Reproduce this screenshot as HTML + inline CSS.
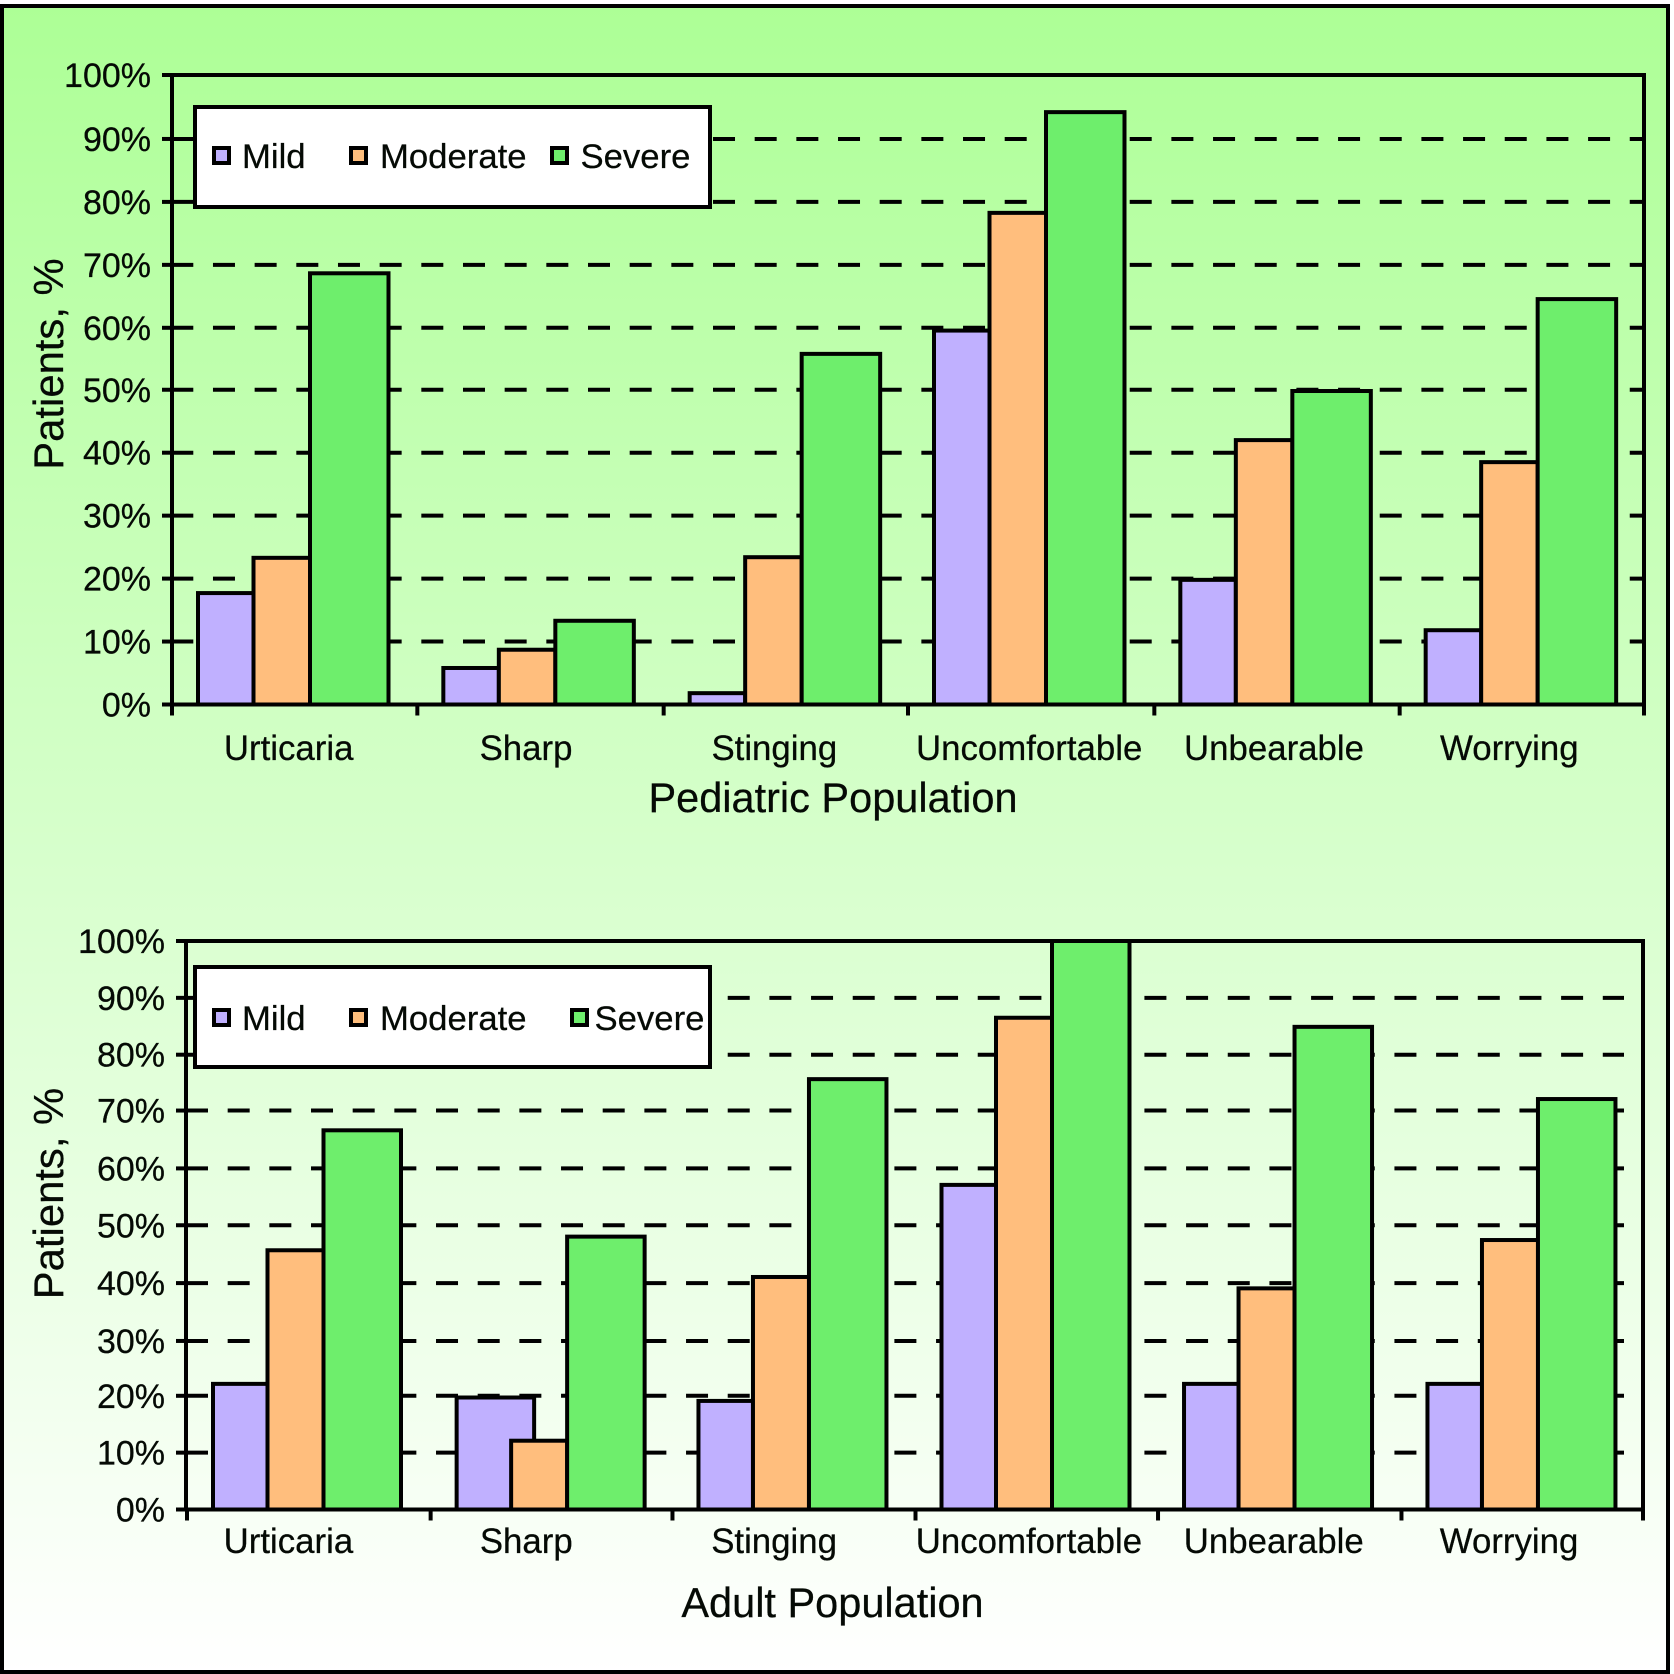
<!DOCTYPE html>
<html>
<head>
<meta charset="utf-8">
<title>Patients by symptom severity</title>
<style>
html,body{margin:0;padding:0;background:#fff;}
#figure{display:block;width:1674px;height:1674px;}
text{font-family:"Liberation Sans",Arial,sans-serif;fill:#050a05;stroke:#050a05;stroke-width:0.25px;}
</style>
</head>
<body>
<svg id="figure" xmlns="http://www.w3.org/2000/svg" width="1674" height="1674" viewBox="0 0 1674 1674">
  <defs>
    <linearGradient id="bgGrad" x1="0" y1="0" x2="0" y2="1">
      <stop offset="0" stop-color="#adff96"/>
      <stop offset="0.5" stop-color="#d6ffcb"/>
      <stop offset="1" stop-color="#ffffff"/>
    </linearGradient>
  </defs>
  <rect x="2" y="6" width="1666" height="1666" fill="url(#bgGrad)" stroke="#000" stroke-width="4"/>
</svg>
<script>
const categories = ['Urticaria', 'Sharp', 'Stinging', 'Uncomfortable', 'Unbearable', 'Worrying'];
const seriesNames = ['Mild', 'Moderate', 'Severe'];
const yTickLabels = ['0%', '10%', '20%', '30%', '40%', '50%', '60%', '70%', '80%', '90%', '100%'];
const yTickValues = [0, 10, 20, 30, 40, 50, 60, 70, 80, 90, 100];
const pediatricMild = [17.7, 5.8, 1.8, 59.4, 19.8, 11.8];
const pediatricModerate = [23.3, 8.7, 23.4, 78.1, 42, 38.5];
const pediatricSevere = [68.5, 13.3, 55.7, 94.1, 49.8, 64.4];
const adultMild = [22.1, 19.7, 19.1, 57.1, 22.1, 22.1];
const adultModerate = [45.6, 12.1, 40.9, 86.5, 38.9, 47.4];
const adultSevere = [66.7, 48, 75.7, 100, 84.9, 72.2];

const svg = document.getElementById('figure');
const NS = 'http://www.w3.org/2000/svg';
const colors = ['#c0b0ff', '#ffbe7d', '#6eee6c'];

function mk(parent, tag, attrs, txt) {
  const e = document.createElementNS(NS, tag);
  for (const k in attrs) e.setAttribute(k, attrs[k]);
  if (txt !== undefined) e.textContent = txt;
  parent.appendChild(e);
  return e;
}

function drawChart(cfg, series) {
  const g = mk(svg, 'g', {});
  
  

  const step = (cfg.right - cfg.left) / categories.length;
  const yScale = v => cfg.y0 + (cfg.y100 - cfg.y0) * v / 100;
  const groupX = k => cfg.left + step * k + cfg.groupNudge[k];

  // plot frame
  const frame = mk(g, 'rect', {x: cfg.left, y: cfg.y100, width: cfg.right - cfg.left, height: cfg.y0 - cfg.y100, fill: 'none', stroke: '#000', 'stroke-width': 4});
  
  

  // y ticks, tick labels, gridlines
  yTickValues.forEach((v, i) => {
    const y = yScale(v) + cfg.gridNudge[i];
    const tick = mk(g, 'line', {x1: cfg.left - 10, x2: cfg.left, y1: y, y2: y, stroke: '#000', 'stroke-width': 4});
    
    

    const label = mk(g, 'text', {x: cfg.labelRight, y: y + 12, 'font-size': 34, 'text-anchor': 'end'}, yTickLabels[i]);
    
    

    if (v > 0 && v < 100) {
      const grid = mk(g, 'line', {x1: cfg.gridStart, x2: cfg.gridEnd, y1: y, y2: y, stroke: '#000', 'stroke-width': 4, 'stroke-dasharray': '22 19.67'});
      
      
    }
  });

  // bars
  categories.forEach((cat, k) => {
    series.forEach((vals, s) => {
      const x1 = groupX(k) + cfg.edges[s];
      const x2 = groupX(k) + cfg.edges[s + 1] + (s === 0 ? cfg.mildExtra[k] : 0);
      const top = yScale(vals[k]);
      const bar = mk(g, 'rect', {x: x1, y: top, width: x2 - x1, height: cfg.y0 - top, fill: colors[s], stroke: '#000', 'stroke-width': 4});
      
      
    });
  });

  // x axis
  const xAxis = mk(g, 'line', {x1: cfg.left, x2: cfg.right, y1: cfg.y0, y2: cfg.y0, stroke: '#000', 'stroke-width': 4});
  
  

  for (let k = 0; k <= categories.length; k++) {
    const tx = k < categories.length ? groupX(k) : cfg.right;
    const xTick = mk(g, 'line', {x1: tx, x2: tx, y1: cfg.y0, y2: cfg.y0 + 11, stroke: '#000', 'stroke-width': 4});
    
    
  }

  categories.forEach((cat, k) => {
    const cx = cfg.left + step * (k + 0.5) + cfg.labelNudge[k];
    const catLabel = mk(g, 'text', {x: cx, y: cfg.catBaseline, 'font-size': 34.8, 'text-anchor': 'middle'}, cat);
    
    
  });

  // titles
  const title = mk(g, 'text', {x: cfg.titleX, y: cfg.titleBaseline, 'font-size': 41.5, 'text-anchor': 'middle'}, cfg.title);
  
  

  const yTitle = mk(g, 'text', {x: 0, y: 0, 'font-size': 41.8, 'text-anchor': 'middle', transform: 'translate(63,' + cfg.yTitleCenter + ') rotate(-90)'}, 'Patients, %');
  
  

  // legend
  const lg = mk(g, 'g', {});
  
  
  const box = mk(lg, 'rect', {x: 195, y: cfg.legendTop, width: 515, height: 100, fill: '#fff', stroke: '#000', 'stroke-width': 4});
  
  
  seriesNames.forEach((nm, s) => {
    const sw = mk(lg, 'rect', {x: cfg.swatchX[s], y: cfg.legendTop + cfg.legendRowOffset - 20, width: 15, height: 15, fill: colors[s], stroke: '#000', 'stroke-width': 4});
    
    
    const lt = mk(lg, 'text', {x: cfg.legendTextX[s], y: cfg.legendTop + cfg.legendRowOffset, 'font-size': 34.7}, nm);
    
    
  });
}

drawChart({
  name: 'pediatric', title: 'Pediatric Population',
  left: 172, right: 1644, y0: 704.5, y100: 75,
  labelRight: 151, gridStart: 171.3, gridEnd: 1644,
  edges: [26, 81.5, 138, 216.5],
  groupNudge: [0, 0, 1, 0, 1, 1],
  mildExtra: [0, 0, 0, 0, 0, 0],
  labelNudge: [-6, -14, -11, -1.5, -2, -12],
  gridNudge: [0, 0, 0, 0, 0, 0, 1, 1, 1, 1, 0],
  catBaseline: 760, titleBaseline: 812, titleX: 833, yTitleCenter: 364,
  legendTop: 107, legendRowOffset: 61,
  swatchX: [214, 351, 552],
  legendTextX: [242, 380, 580.5]
}, [pediatricMild, pediatricModerate, pediatricSevere]);

drawChart({
  name: 'adult', title: 'Adult Population',
  left: 186, right: 1643, y0: 1509.5, y100: 941,
  labelRight: 165, gridStart: 186, gridEnd: 1624,
  edges: [26, 80.5, 136.5, 214],
  groupNudge: [1, 1.8, 0.8, 1, 0.7, 1.3],
  mildExtra: [0, 23, 0, 0, 0, 0],
  labelNudge: [-19, -24, -19, -7, -5, -12.5],
  gridNudge: [0, 0, 0, 2, 1, 0, 0, -1, 0, 0, 0],
  catBaseline: 1553, titleBaseline: 1617, titleX: 832.5, yTitleCenter: 1193.5,
  legendTop: 967, legendRowOffset: 63,
  swatchX: [214, 351, 572],
  legendTextX: [242, 380, 594.5]
}, [adultMild, adultModerate, adultSevere]);
</script>
</body>
</html>
